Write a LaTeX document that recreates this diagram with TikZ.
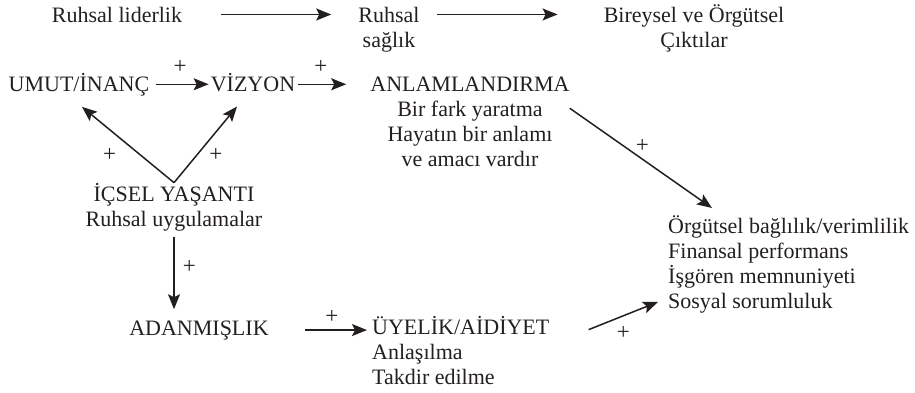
\documentclass[tikz,border=0pt]{standalone}
\usepackage{fontspec}
\setmainfont{Liberation Serif}
\usepackage{xcolor}
\usetikzlibrary{arrows.meta}
\definecolor{ink}{HTML}{231F20}
\tikzset{
  txt/.style={inner sep=0pt, font=\fontsize{22}{25}\selectfont, text=ink},
  sgn/.style={inner sep=0pt, font=\fontsize{23}{25}\selectfont, text=ink},
  arr/.style={-{Stealth[length=15pt,width=12pt,inset=3pt]}, line width=1.5pt, draw=ink}
}

\begin{document}
\begin{tikzpicture}[x=1pt,y=-1pt]
  \useasboundingbox (0,0) rectangle (915,392);

  % Top row (multi-line nodes sit on their last line)
  \node[txt, anchor=base] (liderlik) at (117,22) {Ruhsal liderlik};
  \node[txt, anchor=base, align=center] (saglik) at (389,47) {Ruhsal\\sağlık};
  \node[txt, anchor=base, align=center] (cikti) at (694,47) {Bireysel ve Örgütsel\\Çıktılar};
  \draw[arr, shorten <=39pt, shorten >=27pt] (liderlik.east) -- (liderlik.east -| saglik.west);
  \draw[arr, shorten <=17pt, shorten >=46pt] (liderlik.east -| saglik.east) -- (liderlik.east -| cikti.west);

  % Second row
  \node[txt, anchor=base] (umut) at (79,91) {UMUT/İNANÇ};
  \node[txt, anchor=base] (vizyon) at (253,91) {VİZYON};
  \node[txt, anchor=base, align=center] (anlam) at (470,166)
    {ANLAMLANDIRMA\\Bir fark yaratma\\Hayatın bir anlamı\\ve amacı vardır};
  \draw[arr, shorten <=7pt, shorten >=2pt] (umut.east) -- (umut.east -| vizyon.west)
    node[sgn, midway, above=10pt] {+};
  \draw[arr, shorten <=3pt, shorten >=24pt] (umut.east -| vizyon.east) -- (umut.east -| anlam.west)
    node[sgn, pos=0.34, above=10pt] {+};

  % Inner life
  \node[txt, anchor=base, align=center] (icsel) at (174,226) {İÇSEL YAŞANTI\\Ruhsal uygulamalar};
  \draw[arr] (icsel.north) -- ([xshift=3pt,yshift=-11pt]umut.south)
    node[sgn, pos=0.36, left=24pt] {+};
  \draw[arr] (icsel.north) -- ([xshift=-16pt,yshift=-15pt]vizyon.south)
    node[sgn, pos=0.36, right=12pt] {+};

  % Bottom row
  \node[txt, anchor=base] (adanmis) at (199,335) {ADANMIŞLIK};
  \node[txt, anchor=base west, align=left] (uyelik) at (372,384) {ÜYELİK/AİDİYET\\Anlaşılma\\Takdir edilme};
  \draw[arr, shorten <=6pt, shorten >=11pt] (icsel.south) -- (icsel.south |- adanmis.north)
    node[sgn, pos=0.4, right=8pt] {+};
  \draw[arr, shorten <=36pt, shorten >=5pt] (adanmis.east) -- (adanmis.east -| uyelik.west)
    node[sgn, pos=0.61, above=6pt] {+};

  % Outcomes
  \node[txt, anchor=base west, align=left] (org) at (668,308)
    {Örgütsel bağlılık/verimlilik\\Finansal performans\\İşgören memnuniyeti\\Sosyal sorumluluk};
  \draw[arr] ([yshift=-32pt]anlam.north east) -- ([xshift=44pt,yshift=7pt]org.north west)
    node[sgn, pos=0.51, above=6pt] {+};
  \draw[arr] ([xshift=39pt,yshift=-14pt]uyelik.north east) -- ([xshift=-10pt,yshift=11pt]org.south west)
    node[sgn, midway, below=10pt] {+};
\end{tikzpicture}
\end{document}
